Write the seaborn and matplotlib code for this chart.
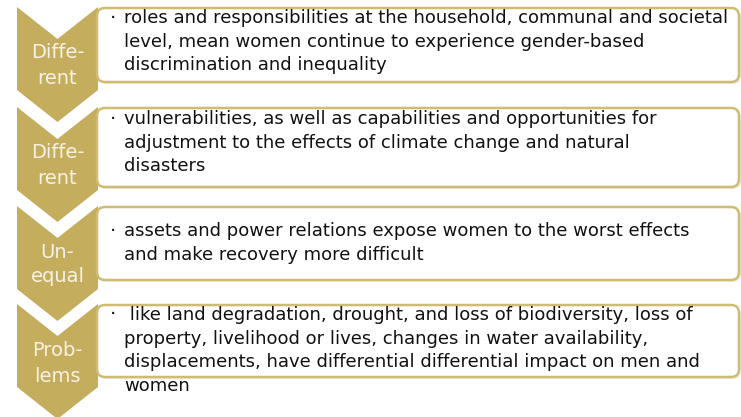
import matplotlib
matplotlib.use("Agg")
import matplotlib.pyplot as plt
import seaborn as sns
from matplotlib.patches import Polygon, FancyBboxPatch

sns.set_theme(style="white")
plt.rcParams['font.family'] = ['DejaVu Sans']

# ---- content ----
labels = [["Diffe-", "rent"], ["Diffe-", "rent"], ["Un-", "equal"], ["Prob-", "lems"]]
descriptions = [
    ["roles and responsibilities at the household, communal and societal",
     "level, mean women continue to experience gender-based",
     "discrimination and inequality"],
    ["vulnerabilities, as well as capabilities and opportunities for",
     "adjustment to the effects of climate change and natural",
     "disasters"],
    ["assets and power relations expose women to the worst effects",
     "and make recovery more difficult"],
    [" like land degradation, drought, and loss of biodiversity, loss of",
     "property, livelihood or lives, changes in water availability,",
     "displacements, have differential differential impact on men and",
     "women"],
]

# ---- layout (pixels) ----
W, H = 741, 417
chev_left, chev_right = 17, 98
chev_tops = [7, 107, 206, 304]
chev_height = 115
notch = 32
box_left, box_right = 97, 739
box_spans = [(8, 82), (108, 187), (207, 280), (305, 377)]
text_first = [18, 119, 231, 315]
line_step = 23.6
label_y = [(52, 78), (152, 178), (252, 276), (351, 377)]

gold = "#c5ad5e"
border = "#cfbb72"

fig = plt.figure(figsize=(W / 100, H / 100), dpi=100)
ax = fig.add_axes([0, 0, 1, 1])
ax.set_xlim(0, W)
ax.set_ylim(H, 0)
ax.axis("off")

cx = (chev_left + chev_right) / 2
for i, top in enumerate(chev_tops):
    bottom = top + chev_height
    pts = [(chev_left, top), (cx, top + notch), (chev_right, top),
           (chev_right, bottom - notch), (cx, bottom), (chev_left, bottom - notch)]
    ax.add_patch(Polygon(pts, closed=True, facecolor=gold, edgecolor="none", zorder=1))
    for txt, yy in zip(labels[i], label_y[i]):
        ax.text(cx, yy, txt, ha="center", va="center", color="#f7f2e2",
                fontsize=14, zorder=3)

for i, (y0, y1) in enumerate(box_spans):
    ax.add_patch(FancyBboxPatch((box_left + 2, y0 + 2), box_right - box_left, y1 - y0,
                                boxstyle="round,pad=0,rounding_size=8",
                                facecolor="#ededed", edgecolor="none", zorder=1.5))
    ax.add_patch(FancyBboxPatch((box_left, y0), box_right - box_left, y1 - y0,
                                boxstyle="round,pad=0,rounding_size=8",
                                facecolor="white", edgecolor=border, linewidth=1.8,
                                zorder=2))
    for j, line in enumerate(descriptions[i]):
        yy = text_first[i] + j * line_step
        if j == 0:
            ax.text(113, yy, "·", ha="center", va="center", color="#111111",
                    fontsize=14, zorder=4)
        ax.text(124, yy, line, ha="left", va="center", color="#111111",
                fontsize=13.0, zorder=4)

fig.savefig("out.png", dpi=100, facecolor="white")
